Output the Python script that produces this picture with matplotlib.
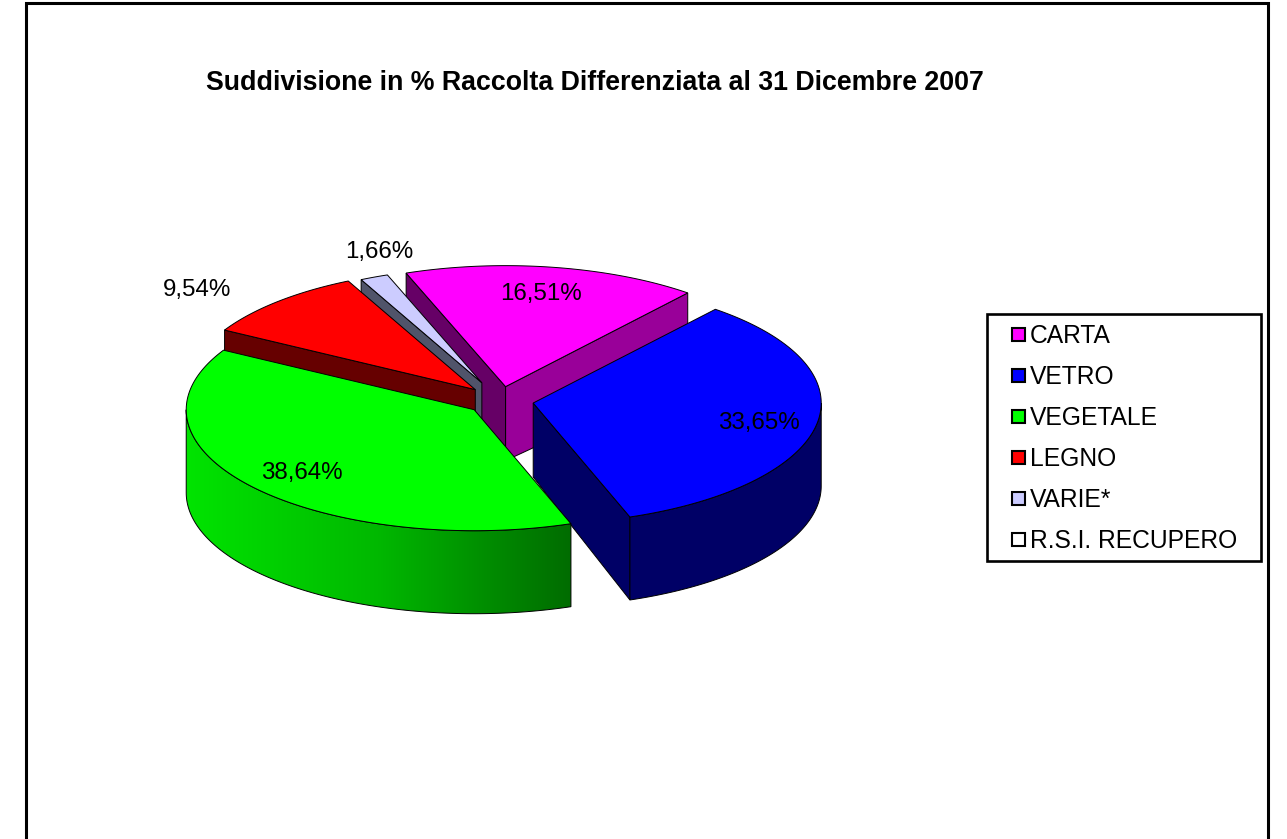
import numpy as np
import matplotlib
matplotlib.use("Agg")
import matplotlib.pyplot as plt
from matplotlib.colors import LinearSegmentedColormap
from matplotlib.patches import Polygon, Rectangle

plt.rcParams['font.family'] = ['Liberation Sans', 'DejaVu Sans']

title = "Suddivisione in % Raccolta Differenziata al 31 Dicembre 2007"
categories = ["CARTA", "VETRO", "VEGETALE", "LEGNO", "VARIE*", "R.S.I. RECUPERO"]
values = [16.51, 33.65, 38.64, 9.54, 1.66, 0.0]
value_labels = ["16,51%", "33,65%", "38,64%", "9,54%", "1,66%", None]

top_colors = ["#ff00ff", "#0000ff", "#00ff00", "#ff0000", "#ccccff", "#ffffff"]
wall_colors = ["#990099", "#000066", "#00c000", "#660000", "#50546a", "#666666"]
cut_colors = ["#660066", "#000066", "#00c000", "#660000", "#50546a", "#666666"]
explode = [0.117, 0.117, 0.117, 0.125, 0.16, 0.0]
slice_scale = [1, 1, 1, 1, 0.95, 1]
label_pos = [(541, 294), (759, 423), (302, 473), (197, 290), (379, 252), None]
draw_order = [0, 4, 3, 1, 2]
# which cut walls face the viewer: start edge, end edge
cut_visible = [(True, True), (False, True), (False, False), (True, False), (True, False), (False, False)]

# pie geometry, in picture pixels
cx, cy = 500, 400.6
rx, ry = 288, 121
h_inner, h_outer = 74, 83
start_angle = -20.2


def ell(t, ox, oy, scale=1):
    t = np.radians(t)
    return ox + scale * rx * np.sin(t), oy - scale * ry * np.cos(t)


fig = plt.figure(figsize=(12.87, 8.39), dpi=100)
ax = fig.add_axes([0, 0, 1, 1])
ax.set_xlim(0, 1287)
ax.set_ylim(839, 0)
ax.axis('off')

edges = start_angle + np.concatenate([[0], np.cumsum(values)]) * 3.6
z = 2
for i in draw_order:
    a0, a1 = edges[i], edges[i + 1]
    mid = (a0 + a1) / 2
    ox, oy = ell(mid, cx, cy, explode[i])
    s = slice_scale[i]
    t = np.linspace(a0, a1, 120)
    xs, ys = ell(t, ox, oy, s)

    # flat walls along the two cuts
    for a, color, show in [(a1, wall_colors[i], cut_visible[i][1]), (a0, cut_colors[i], cut_visible[i][0])]:
        if show:
            ex, ey = ell(a, ox, oy, s)
            ax.add_patch(Polygon([(ox, oy), (ex, ey), (ex, ey + h_outer), (ox, oy + h_inner)],
                                 closed=True, fc=color, ec='black', lw=0.7, zorder=z))
            z += 1

    # outer wall, only the part facing the viewer
    lo, hi = max(a0, 90), min(a1, 270)
    if lo < hi:
        tw = np.linspace(lo, hi, 120)
        wx, wy = ell(tw, ox, oy, s)
        pts = np.column_stack([np.r_[wx, wx[::-1]], np.r_[wy, wy[::-1] + h_outer]])
        if i == 2:
            cmap = LinearSegmentedColormap.from_list("wall", ["#00e400", "#00b800", "#006c00"])
            clip = Polygon(pts, closed=True, fc='none', ec='black', lw=0.7, zorder=z + 1)
            ax.add_patch(clip)
            img = ax.imshow(np.linspace(0, 1, 256)[None, :], cmap=cmap, aspect='auto',
                            extent=(wx.min(), wx.max(), wy.max() + h_outer, wy.min()), zorder=z)
            img.set_clip_path(clip)
            ax.set_xlim(0, 1287)
            ax.set_ylim(839, 0)
            z += 2
        else:
            ax.add_patch(Polygon(pts, closed=True, fc=wall_colors[i], ec='black', lw=0.7, zorder=z))
            z += 1

    # top face
    ax.add_patch(Polygon(np.column_stack([np.r_[ox, xs], np.r_[oy, ys]]), closed=True,
                         fc=top_colors[i], ec='black', lw=0.7, zorder=z))
    z += 1

for lab, pos in zip(value_labels, label_pos):
    if lab:
        ax.text(pos[0], pos[1], lab, fontsize=17.4, ha='center', va='center', color='black', zorder=100)

ax.text(594.5, 83, title, fontsize=19.3, fontweight='bold', ha='center', va='center', color='black')

# outer frame, open at the bottom of the picture
ax.plot([26, 26, 1268, 1268], [839, 3, 3, 839], color='black', lw=2.2, solid_joinstyle='miter', zorder=1)

# legend
ax.add_patch(Rectangle((986.5, 314), 274, 246.5, fc='white', ec='black', lw=1.9, zorder=50))
for i, (name, color) in enumerate(zip(categories, top_colors)):
    y = 335 + i * 40.9
    ax.add_patch(Rectangle((1012, y - 7), 13, 13, fc=color, ec='black', lw=1.5, zorder=51))
    ax.text(1030, y + 1, name, fontsize=17.7, ha='left', va='center', color='black', zorder=51)

fig.savefig("out.png", dpi=100, facecolor='white')
